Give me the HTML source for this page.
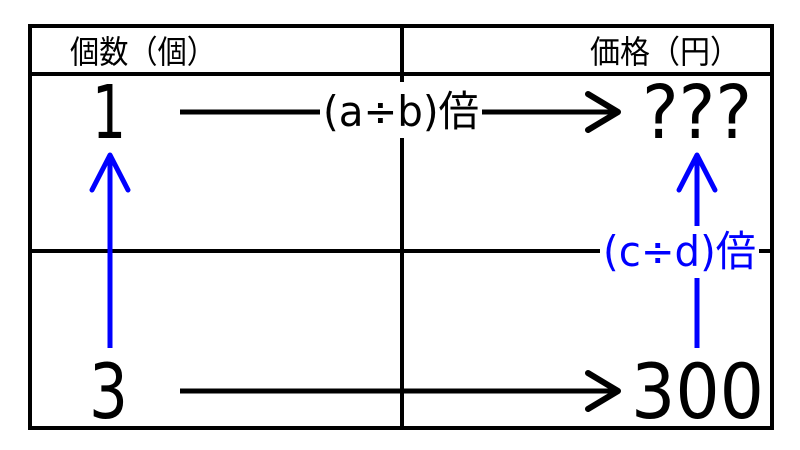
<!DOCTYPE html>
<html><head><meta charset="utf-8"><style>
html,body{margin:0;padding:0;background:#fff;}
svg{display:block;}
text{font-family:"DejaVu Sans","Noto Sans CJK JP",sans-serif;}
</style></head><body>
<svg width="800" height="450" viewBox="0 0 800 450" xmlns="http://www.w3.org/2000/svg">
<rect x="30" y="26" width="742" height="402" fill="none" stroke="#000" stroke-width="4"/>
<line x1="30" y1="74" x2="772" y2="74" stroke="#000" stroke-width="4"/>
<line x1="30" y1="251" x2="772" y2="251" stroke="#000" stroke-width="4"/>
<line x1="402" y1="26" x2="402" y2="428" stroke="#000" stroke-width="4"/>
<text x="70" y="63" font-size="32" textLength="146" lengthAdjust="spacingAndGlyphs">個数（個）</text>
<text x="590" y="63" font-size="32" textLength="150" lengthAdjust="spacingAndGlyphs">価格（円）</text>
<text x="92" y="138" font-size="74" textLength="34" lengthAdjust="spacingAndGlyphs">1</text>
<text x="642" y="138" font-size="74" textLength="110" lengthAdjust="spacingAndGlyphs">???</text>
<text x="89" y="418" font-size="76" textLength="39" lengthAdjust="spacingAndGlyphs">3</text>
<text x="631" y="418" font-size="76" textLength="133" lengthAdjust="spacingAndGlyphs">300</text>
<line x1="180" y1="112" x2="618" y2="112" stroke="#000" stroke-width="5"/>
<polyline points="588,94 618,112 588,130" fill="none" stroke="#000" stroke-width="6" stroke-linecap="round" stroke-linejoin="round"/>
<rect x="320" y="82" width="162" height="56" fill="#fff"/>
<text x="323" y="126" font-size="42" textLength="156" lengthAdjust="spacingAndGlyphs">(a÷b)倍</text>
<line x1="180" y1="391" x2="618" y2="391" stroke="#000" stroke-width="5"/>
<polyline points="588,373 618,391 588,409" fill="none" stroke="#000" stroke-width="6" stroke-linecap="round" stroke-linejoin="round"/>
<line x1="110" y1="348" x2="110" y2="156" stroke="#0000ff" stroke-width="5"/>
<polyline points="92,190 110,155 128,190" fill="none" stroke="#0000ff" stroke-width="5" stroke-linecap="round" stroke-linejoin="round"/>
<line x1="697" y1="348" x2="697" y2="156" stroke="#0000ff" stroke-width="5"/>
<polyline points="679,190 697,155 715,190" fill="none" stroke="#0000ff" stroke-width="5" stroke-linecap="round" stroke-linejoin="round"/>
<rect x="600" y="226" width="159" height="52" fill="#fff"/>
<text x="603" y="266" font-size="42" textLength="153" lengthAdjust="spacingAndGlyphs" fill="#0000ff">(c÷d)倍</text>
</svg>
</body></html>
